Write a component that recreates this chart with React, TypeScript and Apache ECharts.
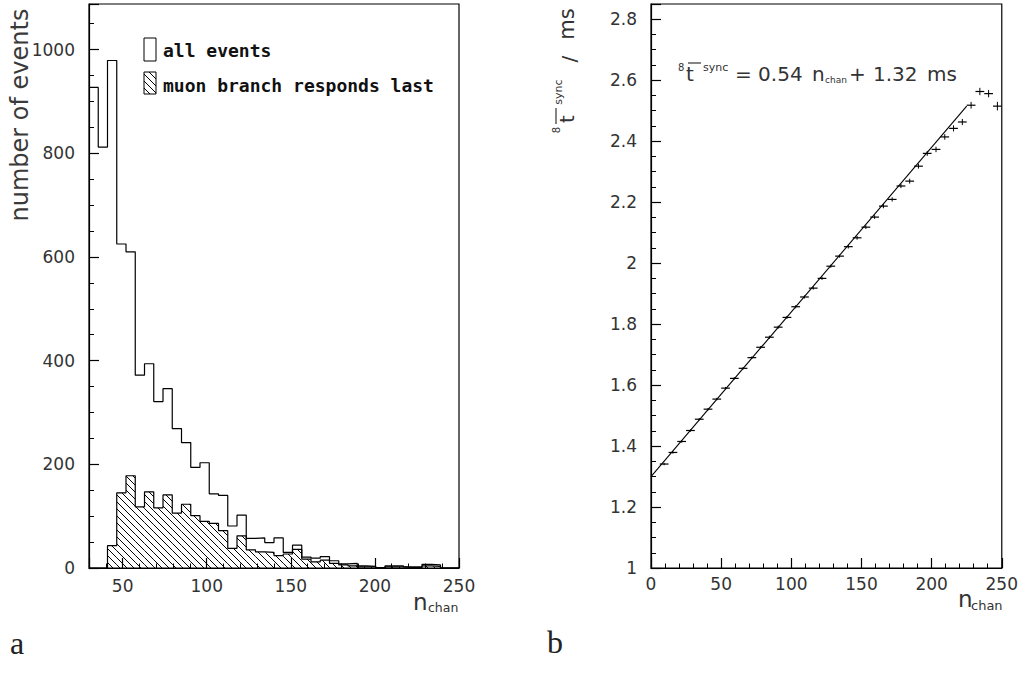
import React, { useEffect, useRef } from "react";
import * as echarts from "echarts";

// ---------- Panel a: histogram (40 bins of width 5.5 from 30 to 250) ----------
const histMin = 30;
const binWidth = 5.5;
const allEvents = [927, 812, 979, 625, 610, 372, 394, 321, 346, 269, 242, 194, 203, 143, 140, 81, 102, 57, 58, 49, 58, 30, 44, 21, 19, 22, 14, 8, 9, 4, 3, 1, 4, 4, 2, 2, 7, 6, 0, 0];
const muonLast = [0, 0, 43, 145, 178, 118, 147, 116, 141, 106, 123, 101, 90, 86, 72, 38, 62, 35, 31, 30, 24, 27, 36, 17, 12, 15, 9, 6, 4, 2, 2, 0, 2, 2, 1, 1, 4, 3, 0, 0];
const leftXTicks = [50, 100, 150, 200, 250];
const leftYTicks = [0, 200, 400, 600, 800, 1000];

// ---------- Panel b: mean sync time vs n_chan ----------
const syncHalfBin = 3.125;
const syncN = [9.375, 15.625, 21.875, 28.125, 34.375, 40.625, 46.875, 53.125, 59.375, 65.625, 71.875, 78.125, 84.375, 90.625, 96.875, 103.125, 109.375, 115.625, 121.875, 128.125, 134.375, 140.625, 146.875, 153.125, 159.375, 165.625, 171.875, 178.125, 184.375, 190.625, 196.875, 203.125, 209.375, 215.625, 221.875, 228.125, 234.375, 240.625, 246.875];
const syncT = [1.341, 1.379, 1.415, 1.451, 1.488, 1.521, 1.554, 1.590, 1.622, 1.655, 1.690, 1.724, 1.757, 1.790, 1.822, 1.857, 1.889, 1.918, 1.950, 1.990, 2.023, 2.054, 2.083, 2.118, 2.151, 2.187, 2.209, 2.253, 2.269, 2.318, 2.360, 2.373, 2.414, 2.442, 2.463, 2.518, 2.563, 2.556, 2.515];
const syncErr = [0.004, 0.004, 0.004, 0.004, 0.004, 0.004, 0.004, 0.004, 0.004, 0.004, 0.004, 0.004, 0.005, 0.005, 0.005, 0.005, 0.005, 0.005, 0.005, 0.005, 0.005, 0.006, 0.006, 0.006, 0.006, 0.007, 0.007, 0.007, 0.008, 0.008, 0.008, 0.009, 0.009, 0.010, 0.010, 0.011, 0.012, 0.012, 0.014];
const fitLine = [[0, 1.30], [225, 2.515]];

const TICK_FONT = "DejaVu Sans";
const TICK_COLOR = "#333";

function stepPoints(vals: number[]) {
  const pts: number[][] = [];
  vals.forEach((v, i) => {
    const a = histMin + i * binWidth;
    pts.push([a, v], [a + binWidth, v]);
  });
  return pts;
}

function hatch(L: number, T: number, R: number, B: number, d: number) {
  const segs: number[][] = [];
  const kMin = Math.ceil((T - R) / d);
  const kMax = Math.floor((B - L) / d);
  for (let k = kMin; k <= kMax; k++) {
    const c = k * d;
    const xs = Math.max(L, T - c);
    const xe = Math.min(R, B - c);
    if (xe > xs + 0.3) segs.push([xs, xs + c, xe, xe + c]);
  }
  return segs;
}

const HATCH_D = 7;

function txt(text: string, x: number, y: number, fontSize: number, opts: any = {}) {
  const align = opts.align || "left";
  return {
    type: "text",
    x,
    y,
    rotation: opts.rotation || 0,
    silent: true,
    style: {
      text,
      fontSize,
      fontFamily: opts.fontFamily || "DejaVu Sans",
      fontWeight: opts.fontWeight || "normal",
      fill: opts.fill || "#222",
      align,
      textAlign: align,
      verticalAlign: "middle",
      textVerticalAlign: "middle",
    },
  };
}

function axisCommon(extra: any) {
  return {
    type: "value",
    splitLine: { show: false },
    axisLine: { show: true, lineStyle: { color: "#000", width: 1.2 } },
    ...extra,
  };
}

function labelStyle(extra: any) {
  return { fontSize: 17, fontFamily: TICK_FONT, color: TICK_COLOR, ...extra };
}

export default function App() {
  const ref = useRef<HTMLDivElement>(null);
  useEffect(() => {
    const chart = echarts.init(ref.current!, null, { renderer: "svg" });

    const legendHatch = hatch(144, 72, 156, 94, HATCH_D).map((s) => ({
      type: "line",
      silent: true,
      shape: { x1: s[0], y1: s[1], x2: s[2], y2: s[3] },
      style: { stroke: "#000", lineWidth: 1 },
    }));

    const option: any = {
      animation: false,
      backgroundColor: "#fff",
      grid: [
        { left: 89, top: 4, width: 370, height: 564, show: true, borderColor: "#000", borderWidth: 1.2, backgroundColor: "transparent" },
        { left: 651, top: 4, width: 352, height: 564, show: true, borderColor: "#000", borderWidth: 1.2, backgroundColor: "transparent" },
      ],
      xAxis: [
        axisCommon({ gridIndex: 0, position: "bottom", min: 30, max: 250, interval: 10, axisTick: { inside: true, length: 4.5, lineStyle: { color: "#000" } }, axisLabel: { show: false } }),
        axisCommon({
          gridIndex: 0, position: "bottom", min: 30, max: 250, minInterval: 50, maxInterval: 50,
          axisLine: { show: false },
          axisTick: { inside: true, length: 10, lineStyle: { color: "#000", width: 1.2 } },
          axisLabel: labelStyle({ margin: 9, formatter: (v: number) => (leftXTicks.indexOf(v) >= 0 ? String(v) : "") }),
        }),
        axisCommon({ gridIndex: 1, position: "bottom", min: 0, max: 250, interval: 10, axisTick: { inside: true, length: 4.5, lineStyle: { color: "#000" } }, axisLabel: { show: false } }),
        axisCommon({
          gridIndex: 1, position: "bottom", min: 0, max: 250, interval: 50,
          axisLine: { show: false },
          axisTick: { inside: true, length: 10, lineStyle: { color: "#000", width: 1.2 } },
          axisLabel: labelStyle({ margin: 7 }),
        }),
      ],
      yAxis: [
        axisCommon({ gridIndex: 0, position: "left", min: 0, max: 1088, interval: 50, axisTick: { inside: true, length: 5, lineStyle: { color: "#000" } }, axisLabel: { show: false } }),
        axisCommon({
          gridIndex: 0, position: "left", min: 0, max: 1088, interval: 200,
          axisLine: { show: false },
          axisTick: { inside: true, length: 10, lineStyle: { color: "#000", width: 1.2 } },
          axisLabel: labelStyle({ margin: 14, formatter: (v: number) => (leftYTicks.indexOf(v) >= 0 ? String(v) : "") }),
        }),
        axisCommon({ gridIndex: 1, position: "left", min: 1, max: 2.85, interval: 0.05, axisTick: { inside: true, length: 5, lineStyle: { color: "#000" } }, axisLabel: { show: false } }),
        axisCommon({
          gridIndex: 1, position: "left", min: 1, max: 2.85, interval: 0.2,
          axisLine: { show: false },
          axisTick: { inside: true, length: 10, lineStyle: { color: "#000", width: 1.2 } },
          axisLabel: labelStyle({
            margin: 14,
            formatter: (v: number) => {
              const k = Math.round(v / 0.2);
              return Math.abs(v - k * 0.2) < 1e-6 ? String(Math.round(v * 10) / 10) : "";
            },
          }),
        }),
      ],
      series: [
        {
          type: "custom",
          xAxisIndex: 0,
          yAxisIndex: 0,
          z: 2,
          encode: { x: [0, 1], y: 2 },
          data: muonLast.map((v, i) => [histMin + i * binWidth, histMin + (i + 1) * binWidth, v]),
          renderItem: (params: any, api: any) => {
            const v = api.value(2);
            if (!(v > 0)) return null;
            const a = api.coord([api.value(0), v]);
            const b = api.coord([api.value(1), 0]);
            const segs = hatch(a[0], a[1], b[0], b[1], HATCH_D);
            return {
              type: "group",
              children: segs.map((s) => ({
                type: "line",
                shape: { x1: s[0], y1: s[1], x2: s[2], y2: s[3] },
                style: { stroke: "#000", lineWidth: 1 },
              })),
            };
          },
        },
        {
          type: "line",
          xAxisIndex: 0,
          yAxisIndex: 0,
          z: 3,
          data: stepPoints(muonLast),
          showSymbol: false,
          symbol: "none",
          lineStyle: { color: "#000", width: 1.2 },
        },
        {
          type: "line",
          xAxisIndex: 0,
          yAxisIndex: 0,
          z: 4,
          data: stepPoints(allEvents),
          showSymbol: false,
          symbol: "none",
          lineStyle: { color: "#000", width: 1.2 },
        },
        {
          type: "line",
          xAxisIndex: 2,
          yAxisIndex: 2,
          z: 3,
          data: fitLine,
          showSymbol: false,
          symbol: "none",
          lineStyle: { color: "#000", width: 1.1 },
        },
        {
          type: "custom",
          xAxisIndex: 2,
          yAxisIndex: 2,
          z: 4,
          encode: { x: 0, y: 1 },
          data: syncN.map((n, i) => [n, syncT[i], syncHalfBin, syncErr[i]]),
          renderItem: (params: any, api: any) => {
            const x = api.value(0);
            const y = api.value(1);
            const h = api.value(2);
            const e = api.value(3);
            const pL = api.coord([x - h, y]);
            const pR = api.coord([x + h, y]);
            const pT = api.coord([x, y + e]);
            const pB = api.coord([x, y - e]);
            return {
              type: "group",
              children: [
                { type: "line", shape: { x1: pL[0], y1: pL[1], x2: pR[0], y2: pR[1] }, style: { stroke: "#000", lineWidth: 1.2 } },
                { type: "line", shape: { x1: pT[0], y1: pT[1], x2: pB[0], y2: pB[1] }, style: { stroke: "#000", lineWidth: 1 } },
              ],
            };
          },
        },
      ],
      graphic: [
        // Panel a titles
        txt("number of events", 20, 115, 24, { rotation: Math.PI / 2, align: "center", fill: "#3a3a3a" }),
        txt("n", 413, 602, 23, { fill: "#333" }),
        txt("chan", 428, 607, 12.5, { fill: "#333" }),
        // Legend
        { type: "rect", silent: true, shape: { x: 144, y: 38, width: 12, height: 23 }, style: { fill: "none", stroke: "#000", lineWidth: 1 } },
        { type: "rect", silent: true, shape: { x: 144, y: 72, width: 12, height: 22 }, style: { fill: "none", stroke: "#000", lineWidth: 1 } },
        ...legendHatch,
        txt("all events", 163, 50, 18, { fontFamily: "DejaVu Sans Mono", fontWeight: "bold", fill: "#111" }),
        txt("muon branch responds last", 163, 85, 18, { fontFamily: "DejaVu Sans Mono", fontWeight: "bold", fill: "#111" }),
        // Panel b titles
        txt("n", 958, 599, 23, { fill: "#333" }),
        txt("chan", 971, 605, 13, { fill: "#333" }),
        // rotated y title: 8 t-bar sync / ms
        txt("8", 556, 130, 10, { rotation: Math.PI / 2, align: "center", fill: "#333" }),
        txt("t", 567, 119, 20, { rotation: Math.PI / 2, align: "center", fill: "#333" }),
        { type: "line", silent: true, shape: { x1: 556, y1: 124, x2: 556, y2: 108 }, style: { stroke: "#333", lineWidth: 1.2 } },
        txt("sync", 558, 92, 11, { rotation: Math.PI / 2, align: "center", fill: "#333" }),
        txt("/", 569, 59, 20, { rotation: Math.PI / 2, align: "center", fill: "#333" }),
        txt("ms", 567, 24, 21, { rotation: Math.PI / 2, align: "center", fill: "#333" }),
        // formula
        txt("8", 678, 67, 10, { fill: "#333" }),
        txt("t", 686, 74, 20, { fill: "#333" }),
        { type: "line", silent: true, shape: { x1: 688, y1: 63, x2: 701, y2: 63 }, style: { stroke: "#333", lineWidth: 1.2 } },
        txt("sync", 703, 67, 11, { fill: "#333" }),
        txt("= 0.54", 735, 74, 20, { fill: "#333" }),
        txt("n", 812, 74, 20, { fill: "#333" }),
        txt("chan", 825, 80, 9, { fill: "#333" }),
        txt("+", 849, 74, 20, { fill: "#333" }),
        txt("1.32", 873, 74, 20, { fill: "#333" }),
        txt("ms", 927, 74, 20, { fill: "#333" }),
        // panel letters
        txt("a", 10, 643, 32, { fontFamily: "Liberation Serif", fill: "#222" }),
        txt("b", 547, 642, 32, { fontFamily: "Liberation Serif", fill: "#222" }),
      ],
    };

    chart.setOption(option);
    return () => chart.dispose();
  }, []);
  return (
    <div
      ref={ref}
      style={{ position: "absolute", left: 0, top: 0, width: 1021, height: 686, background: "#fff" }}
    />
  );
}
